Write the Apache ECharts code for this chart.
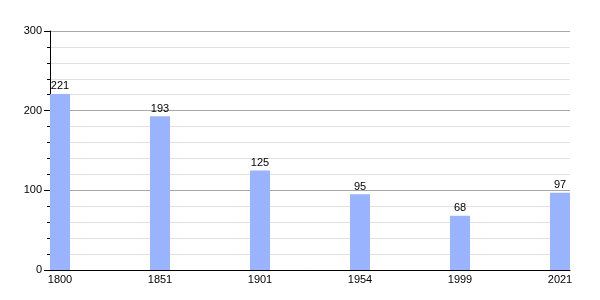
<!DOCTYPE html>
<html><head><meta charset="utf-8">
<script src="https://cdn.jsdelivr.net/npm/echarts@6/dist/echarts.min.js"></script>
<style>html,body{margin:0;padding:0;background:#fff}#c{width:600px;height:300px}</style>
</head><body><div id="c"></div>
<script>
const years = ['1800', '1851', '1901', '1954', '1999', '2021'];
const population = [221, 193, 125, 95, 68, 97];
const yTicks = [0, 100, 200, 300];

const chart = echarts.init(document.getElementById('c'), null, {renderer: 'canvas'});
const font = 'Liberation Sans, Arial, sans-serif';
chart.setOption({
  animation: false,
  grid: {left: 50, right: 30, top: 31, bottom: 30, containLabel: false},
  xAxis: {
    type: 'value', min: -0.1, max: 5.1,
    axisLine: {show: true, onZero: false, lineStyle: {color: '#000', width: 1}},
    axisTick: {show: false},
    splitLine: {show: false},
    axisLabel: {
      customValues: years.map((y, i) => i),
      formatter: v => years[Math.round(v)] || '',
      color: '#000', fontSize: 11, fontFamily: font, margin: 4
    }
  },
  yAxis: {
    type: 'value', min: yTicks[0], max: yTicks[yTicks.length - 1], interval: 100,
    axisLine: {show: true, onZero: false, lineStyle: {color: '#000', width: 1}},
    axisTick: {show: true, length: 6, lineStyle: {color: '#000'}},
    minorTick: {show: true, splitNumber: 5, length: 3, lineStyle: {color: '#000'}},
    splitLine: {show: true, lineStyle: {color: '#a8a8a8', width: 1}},
    minorSplitLine: {show: true, lineStyle: {color: '#e0e0e0', width: 1}},
    axisLabel: {color: '#000', fontSize: 11, fontFamily: font, margin: 8}
  },
  series: [{
    type: 'bar',
    data: population.map((v, i) => [i, v]),
    barWidth: 20,
    itemStyle: {color: '#99b3ff'},
    label: {show: true, position: 'top', distance: 2, color: '#000', fontSize: 11, fontFamily: font}
  }]
});
</script></body></html>
